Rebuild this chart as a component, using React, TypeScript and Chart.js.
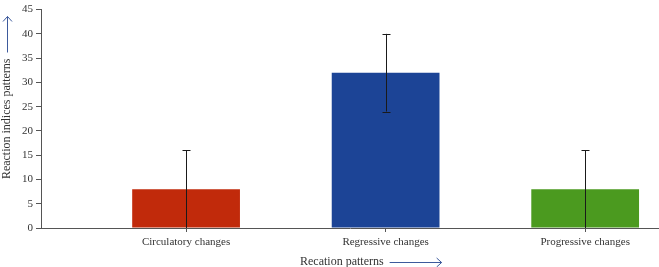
import React, { useEffect, useRef } from "react";
import { Chart, registerables } from "chart.js";
Chart.register(...registerables);

const categories = ["Circulatory changes", "Regressive changes", "Progressive changes"];
const values = [8, 32, 8];
const errors = [8, 8, 8];
const barColors = ["#c12a0b", "#1c4496", "#4b9a1f"];
const yTicks = [0, 5, 10, 15, 20, 25, 30, 35, 40, 45];
const xTitle = "Recation patterns";
const yTitle = "Reaction indices patterns";

const FONT = "'Liberation Serif', 'Times New Roman', serif";
const AXIS = "#555555";
const TEXT = "#333333";
const ARROW = "#3d5a9c";

const errorBars = {
  id: "errorBars",
  afterDatasetsDraw(chart: any) {
    const ctx = chart.ctx;
    const meta = chart.getDatasetMeta(0);
    const ys = chart.scales.y;
    ctx.save();
    ctx.strokeStyle = "#1a1a1a";
    ctx.lineWidth = 1;
    meta.data.forEach((el: any, i: number) => {
      const x = Math.round(el.x) + 0.5;
      const hi = ys.getPixelForValue(values[i] + errors[i]);
      const lo = ys.getPixelForValue(Math.max(0, values[i] - errors[i]));
      ctx.beginPath();
      ctx.moveTo(x, hi);
      ctx.lineTo(x, lo);
      ctx.moveTo(x - 4, Math.round(hi) + 0.5);
      ctx.lineTo(x + 4, Math.round(hi) + 0.5);
      if (values[i] - errors[i] > 0) {
        ctx.moveTo(x - 4, Math.round(lo) + 0.5);
        ctx.lineTo(x + 4, Math.round(lo) + 0.5);
      }
      ctx.stroke();
    });
    ctx.restore();
  },
};

const titles = {
  id: "titles",
  afterDraw(chart: any) {
    const ctx = chart.ctx;
    const a = chart.chartArea;
    ctx.save();
    ctx.font = `12px ${FONT}`;
    ctx.fillStyle = TEXT;
    ctx.textBaseline = "middle";
    const tx = a.left + 259;
    const ty = 262;
    ctx.textAlign = "left";
    ctx.fillText(xTitle, tx, ty);
    const w = ctx.measureText(xTitle).width;
    const ax0 = tx + w + 6;
    const ax1 = ax0 + 52;
    ctx.strokeStyle = ARROW;
    ctx.lineWidth = 1;
    ctx.beginPath();
    ctx.moveTo(ax0, ty + 0.5);
    ctx.lineTo(ax1, ty + 0.5);
    ctx.moveTo(ax1 - 5, ty - 4);
    ctx.lineTo(ax1, ty + 0.5);
    ctx.lineTo(ax1 - 5, ty + 5);
    ctx.stroke();
    const cy = (a.top + a.bottom) / 2;
    const yx = 7;
    ctx.translate(yx, cy);
    ctx.rotate(-Math.PI / 2);
    ctx.textAlign = "center";
    ctx.fillText(yTitle, 0, 0);
    const yw = ctx.measureText(yTitle).width;
    const b0 = yw / 2 + 6;
    const b1 = b0 + 36;
    ctx.beginPath();
    ctx.moveTo(b0, 0.5);
    ctx.lineTo(b1, 0.5);
    ctx.moveTo(b1 - 5, -4);
    ctx.lineTo(b1, 0.5);
    ctx.lineTo(b1 - 5, 5);
    ctx.stroke();
    ctx.restore();
  },
};

export default function App() {
  const ref = useRef<HTMLCanvasElement>(null);
  useEffect(() => {
    const chart = new Chart(ref.current!, {
      type: "bar",
      data: {
        datasets: [
          {
            data: values.map((v, i) => ({ x: i + 1, y: v })),
            backgroundColor: barColors,
            borderWidth: 0,
            barPercentage: 0.54,
            categoryPercentage: 1,
          },
        ],
      },
      options: {
        animation: false,
        responsive: false,
        maintainAspectRatio: false,
        layout: { padding: { top: 4, right: 0, left: 0, bottom: 0 } },
        plugins: { legend: { display: false }, tooltip: { enabled: false } },
        scales: {
          x: {
            type: "linear",
            offset: false,
            min: 0.273,
            max: 3.37,
            afterBuildTicks(scale: any) {
              scale.ticks = categories.map((_, i) => ({ value: i + 1 }));
            },
            afterFit(scale: any) {
              scale.height = 39;
            },
            ticks: {
              autoSkip: false,
              maxRotation: 0,
              padding: 4,
              color: TEXT,
              font: { family: FONT, size: 11 },
              callback: (v: any) => categories[Number(v) - 1] ?? "",
            },
            grid: { offset: false, drawOnChartArea: false, tickLength: 4, color: AXIS },
            border: { color: AXIS, width: 1 },
          },
          y: {
            min: 0,
            max: 45,
            afterBuildTicks(scale: any) {
              scale.ticks = yTicks.map((v) => ({ value: v }));
            },
            afterFit(scale: any) {
              scale.width = 41;
            },
            ticks: {
              padding: 3,
              color: TEXT,
              font: { family: FONT, size: 11 },
            },
            grid: { drawOnChartArea: false, tickLength: 5, color: AXIS },
            border: { color: AXIS, width: 1 },
          },
        },
      },
      plugins: [errorBars, titles],
    });
    return () => chart.destroy();
  }, []);
  return (
    <div style={{ position: "fixed", left: 0, top: 0, width: 659, height: 267, background: "#fff" }}>
      <canvas ref={ref} width={659} height={267} style={{ display: "block" }} />
    </div>
  );
}
